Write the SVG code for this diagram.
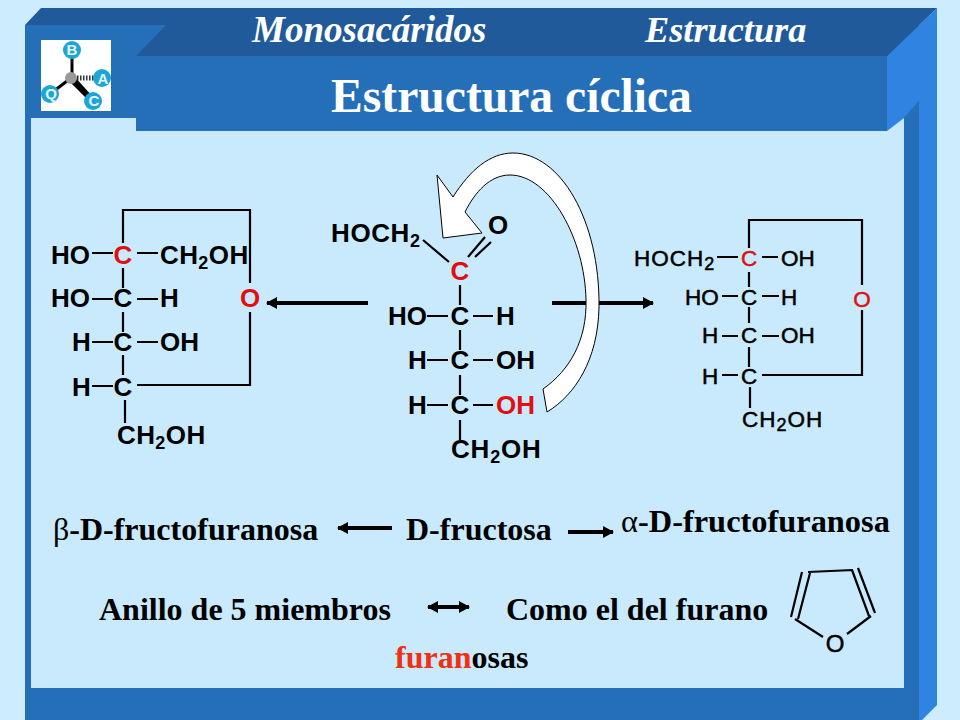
<svg xmlns="http://www.w3.org/2000/svg" width="960" height="720" viewBox="0 0 960 720">
<style>
.s{font-family:"Liberation Sans",Arial,sans-serif;font-weight:bold;font-size:26px;fill:#000}
.r{font-family:"Liberation Sans",Arial,sans-serif;font-size:22.5px;fill:#000;stroke:#000;stroke-width:.5}
.rr{fill:#e01010;stroke:#e01010}
.t{font-family:"Liberation Serif","Times New Roman",serif;font-weight:bold;font-size:32px;fill:#000}
.h{font-family:"Liberation Serif","Times New Roman",serif;font-weight:bold;font-style:italic;font-size:37px;fill:#fff}
.red{fill:#e01010}
.m{text-anchor:middle}
.sub{font-size:18px}
.b{fill:none;stroke:#000;stroke-width:2.2}
.a{fill:none;stroke:#000;stroke-width:4}
.atom{fill:#1ca6d8}
.l{font-family:"Liberation Sans",Arial,sans-serif;font-weight:bold;font-size:15px;fill:#e8f6fc;text-anchor:middle}
</style>
<defs>
<marker id="ah" markerUnits="userSpaceOnUse" markerWidth="12" markerHeight="14" refX="10" refY="6" orient="auto-start-reverse" viewBox="0 0 12 12"><path d="M0,0L11,6L0,12Z" fill="#000"/></marker>
</defs>
<rect width="960" height="720" fill="#cdecfd"/>
<g id="frame">
<rect x="25" y="25" width="894" height="695" fill="#256fb8"/>
<path d="M937,8L887,56V131L904,118L919,101V720H922L937,705Z" fill="#2e84e0"/>
<path d="M25,25L41,8H937L887,56H136L166,25Z" fill="#215a9a"/>
<path d="M31,118H136V131H887L904,118V688H31Z" fill="#c9eafd"/>
<path d="M904,118L919,101V688H904Z" fill="#256fb8"/>
<rect x="136" y="56" width="751" height="75" fill="#256fb8"/>
</g>
<g id="logo">
<rect x="41" y="40" width="70" height="71" fill="#fff"/>
<path d="M72,50V78M71,78L50,94" stroke="#000" stroke-width="3" fill="none"/>
<path d="M71,78H100" stroke="#333" stroke-width="5" stroke-dasharray="1.5 1.5" fill="none"/>
<path d="M69,81L74,76L93,97L89,101Z" fill="#000"/>
<circle class="atom" cx="72" cy="50" r="9"/><circle class="atom" cx="102" cy="78" r="9"/><circle class="atom" cx="50" cy="94" r="9"/><circle class="atom" cx="93" cy="101" r="9"/>
<circle cx="71" cy="78" r="6" fill="#9a9a9a"/>
<text class="l" x="72" y="55">B</text><text class="l" x="103" y="84">A</text><text class="l" x="51" y="99">Q</text><text class="l" x="94" y="106">C</text>
</g>
<g id="header">
<text class="h" x="252" y="42">Monosacáridos</text>
<text class="h" x="645" y="42" style="font-size:36.3px">Estructura</text>
<text x="511.500" y="112" text-anchor="middle" font-family="'Liberation Serif','Times New Roman',serif" font-weight="bold" font-size="47.6" fill="#fff">Estructura cíclica</text>
</g>
<g id="connectors">
<path class="a" d="M368,303H267" marker-end="url(#ah)"/>
<path class="a" d="M552,303H653" marker-end="url(#ah)"/>
<path class="a" d="M392,528H338" marker-end="url(#ah)"/>
<path class="a" d="M568,532H613" marker-end="url(#ah)"/>
<path class="a" d="M428,607H469" marker-start="url(#ah)" marker-end="url(#ah)"/>
</g>
<g id="beta-fructofuranosa">
<path class="b" d="M123,243V210H250V283M250,312V385H137M123,268V288M123,312V332M123,355V375M125,400V423M92,253H113M137,253H158M92,299H113M137,299H158M92,342H113M137,342H158M92,386H113"/>
<text class="s" x="51" y="264">HO</text><text class="s red m" x="123" y="264">C</text><text class="s" x="160" y="264" letter-spacing=".4">CH<tspan class="sub" dy="5">2</tspan><tspan dy="-5">OH</tspan></text>
<text class="s" x="51" y="307">HO</text><text class="s m" x="123" y="307">C</text><text class="s" x="160" y="307">H</text>
<text class="s red m" x="250" y="307">O</text>
<text class="s" x="72" y="351">H</text><text class="s m" x="123" y="351">C</text><text class="s" x="160" y="351">OH</text>
<text class="s" x="72" y="396">H</text><text class="s m" x="123" y="396">C</text>
<text class="s" x="117" y="444" letter-spacing=".4">CH<tspan class="sub" dy="5">2</tspan><tspan dy="-5">OH</tspan></text>
</g>
<g id="fructosa">
<path class="b" d="M423,240L449,262M468,257L485,237M475,257L491,242M460,285V305M460,330V350M460,375V395M460,420V440M427,316H448M473,316H493M427,360H448M473,360H493M427,405H448M473,405H493"/>
<text class="s" x="331" y="242" letter-spacing=".6">HOCH<tspan class="sub" dy="5">2</tspan></text>
<text class="s m" x="498" y="234">O</text>
<text class="s red m" x="460" y="280">C</text>
<text class="s" x="388" y="325">HO</text><text class="s m" x="460" y="325">C</text><text class="s" x="496" y="325">H</text>
<text class="s" x="408" y="369">H</text><text class="s m" x="460" y="369">C</text><text class="s" x="496" y="369">OH</text>
<text class="s" x="408" y="414">H</text><text class="s m" x="460" y="414">C</text><text class="s red" x="496" y="414">OH</text>
<text class="s" x="451" y="458" letter-spacing=".8">CH<tspan class="sub" dy="5">2</tspan><tspan dy="-5">OH</tspan></text>
</g>
<g id="curved-arrow">
<path d="M437,175L453,197C470,170 490,153 513,153C560,153 600,220 599,307C598,360 575,395 547,412L543,389C570,370 587,340 586,300C585,240 550,175 510,175C490,175 475,192 465,212L482,233L443,238Z" fill="#fff" stroke="#000" stroke-width="1"/>
</g>
<g id="alpha-fructofuranosa">
<path class="b" d="M749,248V220H862V285M862,310V375H762M749,272V287M749,307V323M749,347V367M750,387V408M717,257H738M762,257H778M722,296H738M762,296H779M722,336H738M762,336H779M722,375H738"/>
<text class="r" x="634" y="266" letter-spacing="1">HOCH<tspan class="sub" dy="4">2</tspan></text><text class="r rr m" x="749" y="266">C</text><text class="r" x="781" y="266">OH</text>
<text class="r" x="685" y="305">HO</text><text class="r m" x="749" y="305">C</text><text class="r" x="781" y="305">H</text>
<text class="r rr m" x="862" y="307">O</text>
<text class="r" x="702" y="343">H</text><text class="r m" x="749" y="343">C</text><text class="r" x="781" y="343">OH</text>
<text class="r" x="702" y="384">H</text><text class="r m" x="749" y="384">C</text>
<text class="r" x="742" y="427" letter-spacing="1">CH<tspan class="sub" dy="4">2</tspan><tspan dy="-4">OH</tspan></text>
</g>
<g id="labels">
<text class="t" x="53" y="540"><tspan font-weight="normal">β</tspan>-D-fructofuranosa</text>
<text class="t" x="406" y="540">D-fructosa</text>
<text class="t" x="621" y="532" style="font-size:32.400px"><tspan font-weight="normal">α</tspan>-D-fructofuranosa</text>
<text class="t" x="99" y="620">Anillo de 5 miembros</text>
<text class="t" x="506" y="620">Como el del furano</text>
<text class="t" x="395" y="668"><tspan fill="#f03010">furan</tspan>osas</text>
</g>
<g id="furano">
<path class="b" d="M802,572L791,617M810,573L798,619M808,572L853,570M852,570L869,616M858,568L875,613M795,619L823,637M847,634L871,616"/>
<text class="r" x="835" y="652" text-anchor="middle" style="font-size:24px">O</text>
</g>
</svg>
